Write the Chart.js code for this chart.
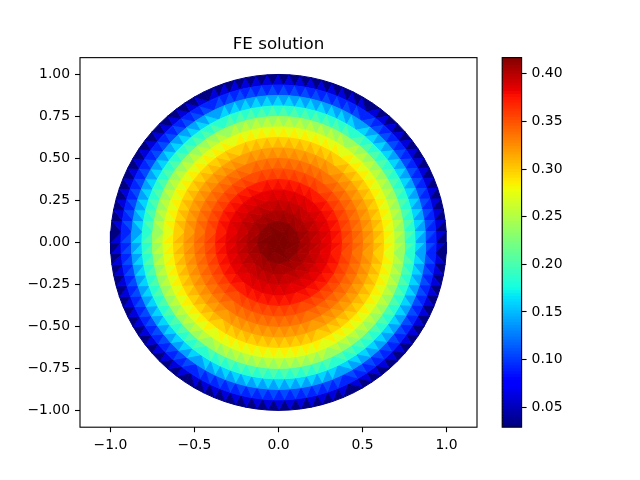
<!DOCTYPE html>
<html><head><meta charset="utf-8">
<script src="https://cdn.jsdelivr.net/npm/chart.js@4.4.1/dist/chart.umd.min.js"></script>
<style>
html,body{margin:0;padding:0;background:#fff;}
#wrap{position:relative;width:640px;height:480px;}
canvas{position:absolute;left:0;top:0;}
</style>
</head><body>
<div id="wrap"><canvas id="main" width="640" height="480"></canvas><canvas id="cbar" width="640" height="480"></canvas></div>
<script>
// Mesh rings (radius of each node ring) and number of nodes on each ring
const ringEdges = [0, 0.0625, 0.125, 0.1875, 0.25, 0.3125, 0.375, 0.4375, 0.5, 0.5625, 0.625, 0.6875, 0.75, 0.8125, 0.875, 0.9375, 1.0];
const nodesPerRing = [1, 6, 12, 18, 24, 30, 36, 42, 48, 54, 60, 66, 72, 78, 84, 90, 96];
// Values of triangles in each ring band (ring k lies between ringEdges[k] and ringEdges[k+1])
// triangles with two nodes on the inner circle (higher value)
const innerHeavyValues = [0.417, 0.416, 0.406, 0.397, 0.387, 0.377, 0.358, 0.342, 0.325, 0.307, 0.284, 0.253, 0.201, 0.159, 0.106, 0.060];
// triangles with two nodes on the outer circle (lower value)
const outerHeavyValues = [0.417, 0.413, 0.402, 0.392, 0.382, 0.371, 0.351, 0.335, 0.317, 0.297, 0.271, 0.237, 0.184, 0.139, 0.091, 0.029];
const xTicks = [-1.0, -0.5, 0.0, 0.5, 1.0];
const yTicks = [-1.0, -0.75, -0.5, -0.25, 0.0, 0.25, 0.5, 0.75, 1.0];
const cbarTicks = [0.05, 0.10, 0.15, 0.20, 0.25, 0.30, 0.35, 0.40];
const xRange = [-1.181, 1.181];
const yRange = [-1.1, 1.1];
const titleText = 'FE solution';

Chart.defaults.font.family = "'DejaVu Sans', sans-serif";
Chart.defaults.font.size = 13.9;
Chart.defaults.color = '#000';

const vmin = Math.min(...innerHeavyValues, ...outerHeavyValues);
const vmax = Math.max(...innerHeavyValues, ...outerHeavyValues);

function interp(t, pts){
  for(let i=1;i<pts.length;i++){
    if(t<=pts[i][0]){
      const [x0,y0]=pts[i-1],[x1,y1]=pts[i];
      return y0+(y1-y0)*(t-x0)/(x1-x0);
    }
  }
  return pts[pts.length-1][1];
}
function jet(t){
  t=Math.max(0,Math.min(1,t));
  const r=interp(t,[[0,0],[0.35,0],[0.66,1],[0.89,1],[1,0.5]]);
  const g=interp(t,[[0,0],[0.125,0],[0.375,1],[0.64,1],[0.91,0],[1,0]]);
  const b=interp(t,[[0,0.5],[0.11,1],[0.34,1],[0.65,0],[1,0]]);
  return `rgb(${Math.round(r*255)},${Math.round(g*255)},${Math.round(b*255)})`;
}

function node(k,i){
  const n=nodesPerRing[k], r=ringEdges[k];
  const a=2*Math.PI*(i%n)/n;
  return {x:r*Math.cos(a), y:r*Math.sin(a)};
}
const datasets=[];
function addTri(pts,v){
  const c=jet((v-vmin)/(vmax-vmin));
  datasets.push({data:[pts[0],pts[1],pts[2],pts[0]], showLine:true, fill:'shape',
    backgroundColor:c, borderColor:c, borderWidth:1, pointRadius:0, tension:0});
}
for(let j=0;j<nodesPerRing[1];j++){
  addTri([node(0,0),node(1,j),node(1,j+1)], outerHeavyValues[0]);
}
for(let k=1;k<ringEdges.length-1;k++){
  const n1=nodesPerRing[k], n2=nodesPerRing[k+1];
  let i=0,j=0;
  while(i<n1||j<n2){
    const ni=(i+1)/n1, nj=(j+1)/n2;
    if(j>=n2 || (i<n1 && ni<nj)){
      addTri([node(k,i),node(k,i+1),node(k+1,j)], innerHeavyValues[k]); i++;
    } else {
      addTri([node(k,i),node(k+1,j),node(k+1,j+1)], outerHeavyValues[k]); j++;
    }
  }
}

const framePlugin={id:'frame',afterDraw(chart){
  const a=chart.chartArea, ctx=chart.ctx;
  ctx.save(); ctx.strokeStyle='#000'; ctx.lineWidth=1.1;
  ctx.strokeRect(a.left,a.top,a.right-a.left,a.bottom-a.top);
  ctx.restore();
}};
const fmt=(d)=>(v)=> (v<0?'\u2212':'')+Math.abs(v).toFixed(d);
const gridOpts={display:true,drawOnChartArea:false,drawTicks:true,tickLength:5,tickColor:'#000',tickWidth:1.1};

new Chart(document.getElementById('main'),{
  type:'scatter',
  data:{datasets},
  options:{
    responsive:false, animation:false, events:[],
    layout:{padding:{left:0,right:163,top:0,bottom:0}},
    plugins:{legend:{display:false},tooltip:{enabled:false},
      title:{display:true,text:titleText,fullSize:false,color:'#000',
        font:{size:16.7,weight:'normal'},padding:{top:34.3,bottom:3.3}}},
    scales:{
      x:{type:'linear',min:xRange[0],max:xRange[1],
        afterBuildTicks:(s)=>{s.ticks=xTicks.map(v=>({value:v}));},
        afterFit:(s)=>{s.height=52.8;},
        ticks:{callback:fmt(1),padding:5,maxRotation:0,autoSkip:false},
        grid:gridOpts,border:{display:false}},
      y:{type:'linear',min:yRange[0],max:yRange[1],
        afterBuildTicks:(s)=>{s.ticks=yTicks.map(v=>({value:v}));},
        afterFit:(s)=>{s.width=80;},
        ticks:{callback:fmt(2),padding:5,autoSkip:false},
        grid:gridOpts,border:{display:false}}
    }
  },
  plugins:[framePlugin]
});

// Colorbar
const nSeg=128, step=(vmax-vmin)/nSeg;
const cbDatasets=[];
for(let i=0;i<nSeg;i++){
  const lo=vmin+i*step;
  const c=jet((i+0.5)/nSeg);
  cbDatasets.push({data:[[lo, Math.min(vmax, lo+step*1.3)]],backgroundColor:c,borderWidth:0,
    grouped:false,barPercentage:1,categoryPercentage:1});
}
new Chart(document.getElementById('cbar'),{
  type:'bar',
  data:{labels:[''],datasets:cbDatasets},
  options:{
    responsive:false, animation:false, events:[],
    layout:{padding:{left:502.2,right:58.4,top:57.6,bottom:52.8}},
    plugins:{legend:{display:false},tooltip:{enabled:false}},
    scales:{
      x:{display:false},
      y:{position:'right',min:vmin,max:vmax,
        afterBuildTicks:(s)=>{s.ticks=cbarTicks.map(v=>({value:v}));},
        afterFit:(s)=>{s.width=60;},
        ticks:{callback:fmt(2),padding:5,autoSkip:false},
        grid:gridOpts,border:{display:false}}
    }
  },
  plugins:[framePlugin]
});
</script>
</body></html>
